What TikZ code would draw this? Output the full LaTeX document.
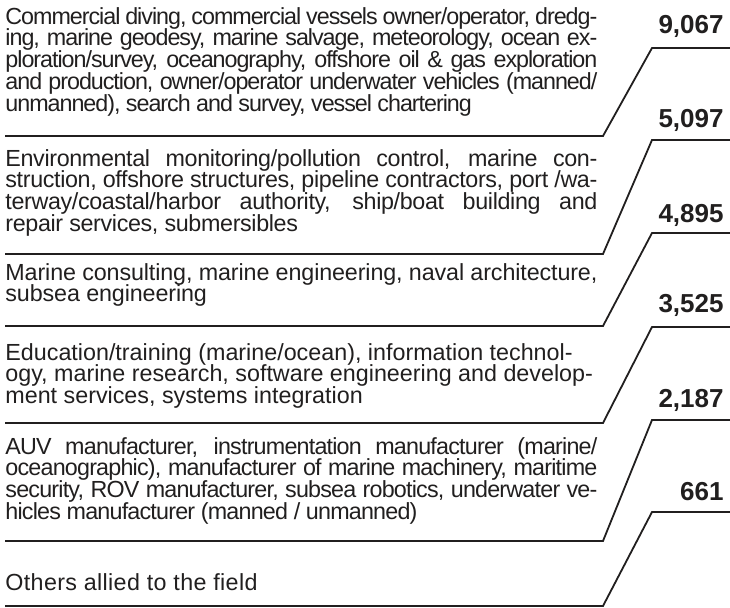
\documentclass[tikz,border=0pt]{standalone}
\usepackage{fontspec}
\setmainfont{Liberation Sans}
\usetikzlibrary{positioning}
\definecolor{ink}{rgb}{.13,.12,.12}
\newcommand\blkfont{\fontsize{11.65}{10.85}\selectfont\lineskiplimit=-\maxdimen}
\newcommand\numfont{\fontsize{13}{13}\selectfont\bfseries}
\newcommand\fullline[1]{\makebox[296pt][s]{#1}}
\begin{document}
\begin{tikzpicture}[x=0.5pt,y=-0.5pt,% pixel grid, y downwards
			every node/.style={inner sep=0pt,text=ink},
			blk/.style={anchor=north west,align=left,font={\blkfont\addfontfeatures{LetterSpace=#1}}},
			blk/.default=0,
			num/.style={anchor=base east,font=\numfont},
			sep/.style={draw=ink,line width=0.9pt}
		]
		\useasboundingbox (0,0) rectangle (730,607);
		% separators
		\foreach \l/\r in {136/48,254/140,326/233,423/327,541/420,606/512}
			\draw[sep] (5,\l) -- (603,\l) -- (652,\r) -- (730,\r);
		% groups
		\node[blk=-4.4](G1) at (5,7){\fullline{Commercial diving, commercial vessels owner/operator, dredg-}\\
			\fullline{ing, marine geodesy, marine salvage, meteorology, ocean ex-}\\
			\fullline{ploration/survey, oceanography, offshore oil \& gas exploration}\\
			\fullline{and production, owner/operator underwater vehicles (manned/}\\
			unmanned), search and survey, vessel chartering};
		\node[blk=-1.5](G2) at (5,149){\fullline{Environmental monitoring/pollution control, marine con-}\\
			\fullline{struction, offshore structures, pipeline contractors, port /wa-}\\
			\fullline{terway/coastal/harbor authority, ship/boat building and}\\
			repair services, submersibles};
		\node[blk=-0.5](G3) at (5,263){\fullline{Marine consulting, marine engineering, naval architecture,}\\
			subsea engineering};
		\node[blk](G4) at (5,343){Education/training (marine/ocean), information technol-\\
			ogy, marine research, software engineering and develop-\\
			ment services, systems integration};
		\node[blk=-3.4](G5) at (5,437){\fullline{AUV manufacturer, instrumentation manufacturer (marine/}\\
			\fullline{oceanographic), manufacturer of marine machinery, maritime}\\
			\fullline{security, ROV manufacturer, subsea robotics, underwater ve-}\\
			hicles manufacturer (manned / unmanned)};
		\node[blk=1.5](G6) at (5,573){Others allied to the field};
		% counts
		\node[num](N1) at (724,33){9,067};
		\node[num](N2) at (724,127){5,097};
		\node[num](N3) at (724,222){4,895};
		\node[num](N4) at (724,312){3,525};
		\node[num](N5) at (724,407){2,187};
		\node[num](N6) at (724,500){661};
	\end{tikzpicture}
\end{document}
